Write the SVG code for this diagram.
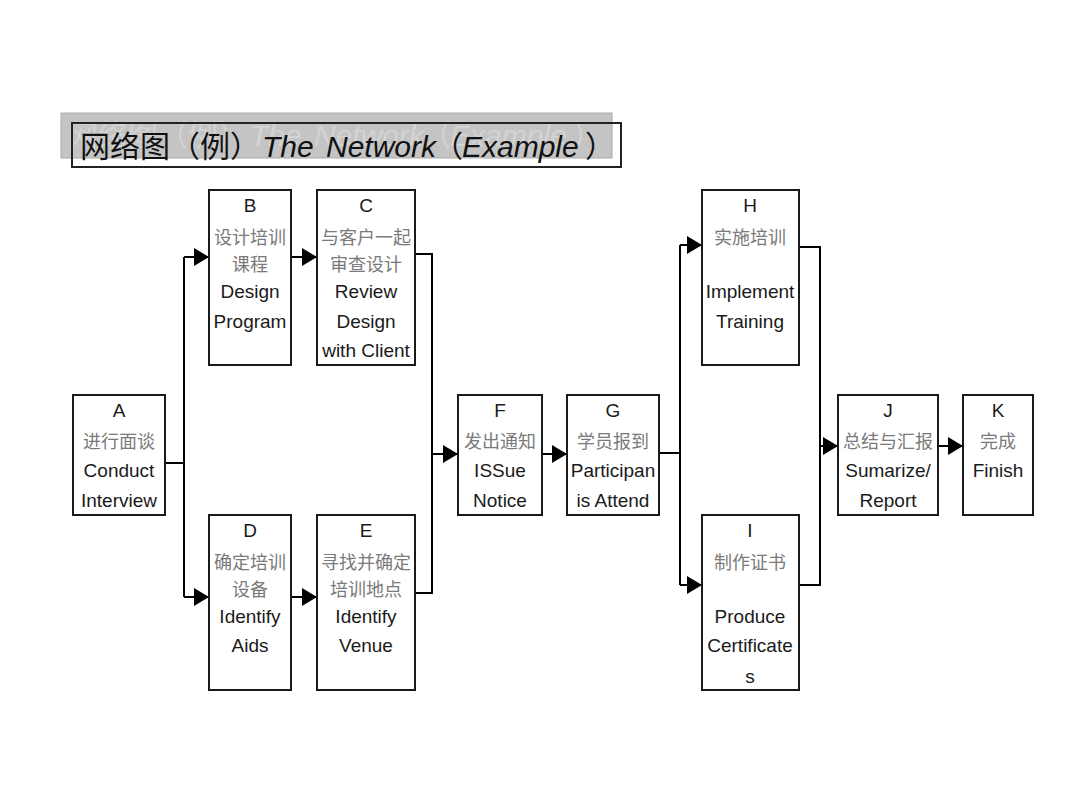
<svg xmlns="http://www.w3.org/2000/svg" width="1080" height="810" viewBox="0 0 1080 810">
<defs>
<marker id="arr" markerUnits="userSpaceOnUse" markerWidth="16" markerHeight="18" refX="15" refY="9" orient="auto">
<path d="M0,0 L15,9 L0,18 z" fill="#000"/>
</marker>
<style>
.box{fill:#fff;stroke:#1a1a1a;stroke-width:2}
.en{font-family:"Liberation Sans",Arial,sans-serif;font-size:19px;fill:#1a1a1a;text-anchor:middle}
.zh{font-family:"Noto Sans CJK SC",sans-serif;font-size:18px;fill:#7a7a7a;text-anchor:middle}
.ln{fill:none;stroke:#000;stroke-width:2}
.ar{fill:none;stroke:#000;stroke-width:2;marker-end:url(#arr)}
.cjk{font-family:"Noto Sans CJK SC",sans-serif}
.lat{font-family:"Liberation Sans",Arial,sans-serif;font-style:italic}
</style>
</defs>
<rect width="1080" height="810" fill="#fff"/>
<g id="title">
<rect x="61" y="113" width="551" height="45" fill="#c4c4c4" stroke="#ababab" stroke-width="1"/>
<text y="146" font-size="30" fill="#d3d3d3"><tspan class="cjk" x="68">网络图（例）</tspan><tspan class="lat" x="250">The</tspan><tspan class="lat" x="314">Network</tspan><tspan class="cjk" x="421">（</tspan><tspan class="lat" x="450">Example</tspan><tspan class="cjk" x="573">）</tspan></text>
<rect x="72" y="123" width="549" height="44" fill="none" stroke="#222" stroke-width="2"/>
<text y="157" font-size="30" fill="#111"><tspan class="cjk" x="80">网络图（例）</tspan><tspan class="lat" x="262">The</tspan><tspan class="lat" x="326">Network</tspan><tspan class="cjk" x="433">（</tspan><tspan class="lat" x="462">Example</tspan><tspan class="cjk" x="585">）</tspan></text>
</g>
<g id="connectors">
<polyline class="ln" points="165,463 184,463"/>
<polyline class="ln" points="184,257 184,597"/>
<line class="ar" x1="184" y1="257" x2="209" y2="257"/>
<line class="ar" x1="184" y1="597" x2="209" y2="597"/>
<line class="ar" x1="291" y1="257" x2="317" y2="257"/>
<line class="ar" x1="291" y1="597" x2="317" y2="597"/>
<polyline class="ln" points="415,254 432,254 432,593 415,593"/>
<line class="ar" x1="432" y1="454" x2="458" y2="454"/>
<line class="ar" x1="542" y1="454" x2="567" y2="454"/>
<polyline class="ln" points="659,453 680,453"/>
<polyline class="ln" points="680,245 680,585"/>
<line class="ar" x1="680" y1="245" x2="702" y2="245"/>
<line class="ar" x1="680" y1="585" x2="702" y2="585"/>
<polyline class="ln" points="799,247 820,247 820,585 799,585"/>
<line class="ar" x1="820" y1="446" x2="838" y2="446"/>
<line class="ar" x1="938" y1="446" x2="963" y2="446"/>
</g>
<g id="A">
<rect class="box" x="73" y="395" width="92" height="120"/>
<text class="en" x="119" y="417">A</text>
<text class="zh" x="119" y="448">进行面谈</text>
<text class="en" x="119" y="477">Conduct</text>
<text class="en" x="119" y="507">Interview</text>
</g>
<g id="B">
<rect class="box" x="209" y="190" width="82" height="175"/>
<text class="en" x="250" y="212">B</text>
<text class="zh" x="250" y="244">设计培训</text>
<text class="zh" x="250" y="271">课程</text>
<text class="en" x="250" y="298">Design</text>
<text class="en" x="250" y="328">Program</text>
</g>
<g id="C">
<rect class="box" x="317" y="190" width="98" height="175"/>
<text class="en" x="366" y="212">C</text>
<text class="zh" x="366" y="244">与客户一起</text>
<text class="zh" x="366" y="271">审查设计</text>
<text class="en" x="366" y="298">Review</text>
<text class="en" x="366" y="328">Design</text>
<text class="en" x="366" y="357">with Client</text>
</g>
<g id="D">
<rect class="box" x="209" y="515" width="82" height="175"/>
<text class="en" x="250" y="537">D</text>
<text class="zh" x="250" y="569">确定培训</text>
<text class="zh" x="250" y="596">设备</text>
<text class="en" x="250" y="623">Identify</text>
<text class="en" x="250" y="652">Aids</text>
</g>
<g id="E">
<rect class="box" x="317" y="515" width="98" height="175"/>
<text class="en" x="366" y="537">E</text>
<text class="zh" x="366" y="569">寻找并确定</text>
<text class="zh" x="366" y="596">培训地点</text>
<text class="en" x="366" y="623">Identify</text>
<text class="en" x="366" y="652">Venue</text>
</g>
<g id="F">
<rect class="box" x="458" y="395" width="84" height="120"/>
<text class="en" x="500" y="417">F</text>
<text class="zh" x="500" y="448">发出通知</text>
<text class="en" x="500" y="477">ISSue</text>
<text class="en" x="500" y="507">Notice</text>
</g>
<g id="G">
<rect class="box" x="567" y="395" width="92" height="120"/>
<text class="en" x="613" y="417">G</text>
<text class="zh" x="613" y="448">学员报到</text>
<text class="en" x="613" y="477">Participan</text>
<text class="en" x="613" y="507">is Attend</text>
</g>
<g id="H">
<rect class="box" x="702" y="190" width="97" height="175"/>
<text class="en" x="750" y="212">H</text>
<text class="zh" x="750" y="244">实施培训</text>
<text class="en" x="750" y="298">Implement</text>
<text class="en" x="750" y="328">Training</text>
</g>
<g id="I">
<rect class="box" x="702" y="515" width="97" height="175"/>
<text class="en" x="750" y="537">I</text>
<text class="zh" x="750" y="569">制作证书</text>
<text class="en" x="750" y="623">Produce</text>
<text class="en" x="750" y="652">Certificate</text>
<text class="en" x="750" y="683">s</text>
</g>
<g id="J">
<rect class="box" x="838" y="395" width="100" height="120"/>
<text class="en" x="888" y="417">J</text>
<text class="zh" x="888" y="448">总结与汇报</text>
<text class="en" x="888" y="477">Sumarize/</text>
<text class="en" x="888" y="507">Report</text>
</g>
<g id="K">
<rect class="box" x="963" y="395" width="70" height="120"/>
<text class="en" x="998" y="417">K</text>
<text class="zh" x="998" y="448">完成</text>
<text class="en" x="998" y="477">Finish</text>
</g>
</svg>
